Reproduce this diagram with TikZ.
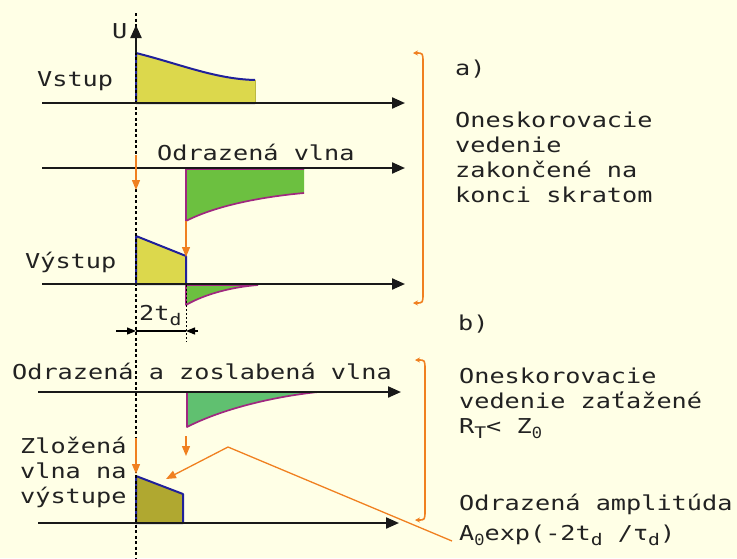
\documentclass[tikz,border=0pt]{standalone}
\usepackage{fontspec}
\setmainfont{DejaVu Sans Mono}[FakeStretch=1.23]
\newfontfamily\zerofont{Liberation Mono}
\usetikzlibrary{arrows.meta}
\definecolor{bg}{HTML}{FFFFE6}
\definecolor{txtc}{HTML}{222222}
\definecolor{yel}{HTML}{DCD84C}
\definecolor{grn}{HTML}{6CC040}
\definecolor{grnb}{HTML}{60C070}
\definecolor{oliv}{HTML}{B0A830}
\definecolor{navy}{HTML}{20209A}
\definecolor{mag}{HTML}{A02880}
\definecolor{orng}{HTML}{F08020}
\newcommand{\lowr}[1]{\raisebox{-0.28em}{\fontsize{16}{16}\selectfont #1}}
\newcommand{\lowz}{\raisebox{-0.28em}{\zerofont\fontsize{17}{17}\selectfont 0}}
\begin{document}
\begin{tikzpicture}[x=1pt,y=-1pt,
  txt/.style={anchor=base west, inner sep=0pt, text=txtc, font=\fontsize{20.5}{24}\selectfont},
  axis/.style={line width=2.2pt, black!90, -{Triangle[length=13pt,width=11pt]}},
  oarr/.style={line width=1.3pt, orng, -{Triangle[length=10pt,width=8pt]}},
  brace/.style={line width=1.6pt, orng, {Stealth[length=5pt,width=5pt]}-{Stealth[length=5pt,width=5pt]}},
  pout/.style={line width=2pt, navy, line join=round},
  mout/.style={line width=1.7pt, mag, line join=round}]
\fill[bg] (0,0) rectangle (737,558);
\useasboundingbox (0,0) rectangle (737,558);

% pulses
\fill[yel] (136,103) -- (136,53) .. controls (180,64) and (215,79) .. (255,80) -- (255,103) -- cycle;
\draw[pout] (255,103) -- (136,103) -- (136,53) .. controls (180,64) and (215,79) .. (255,80);
\draw[line width=1pt, yel!85!black] (255,80) -- (255,103);

\fill[grn] (186,169) -- (304,169) -- (304,193) .. controls (260,197) and (215,206) .. (186,221) -- cycle;
\draw[mout] (304,169) -- (186,169) -- (186,221) .. controls (215,206) and (260,197) .. (304,193);

\fill[yel] (136,284) -- (136,236) -- (186,256) -- (186,284) -- cycle;
\draw[pout] (136,284) -- (136,236) -- (186,256) -- (186,284) -- cycle;

\fill[grn] (186,285) -- (258,285) .. controls (232,287) and (205,294) .. (186,305) -- cycle;
\draw[mout] (258,285) -- (186,285) -- (186,305) .. controls (205,294) and (232,287) .. (258,285);

\fill[grnb] (187,392) -- (318,392) .. controls (270,397) and (220,410) .. (187,427) -- cycle;
\draw[mout] (318,392) -- (187,392) -- (187,427) .. controls (220,410) and (270,397) .. (318,392);

\fill[oliv] (136,523) -- (136,476) -- (183,494) -- (183,523) -- cycle;
\draw[pout] (136,523) -- (136,476) -- (183,494) -- (183,523) -- cycle;

% vertical dashed axis
\draw[line width=1.6pt, dash pattern=on 3pt off 2.5pt] (136,13) -- (136,558);
\draw[axis] (136,53) -- (136,25);

% horizontal axes
\coordinate (a1s) at (42,103);  \coordinate (a1e) at (405,103);
\coordinate (a2s) at (42,168);  \coordinate (a2e) at (405,168);
\coordinate (a3s) at (42,284);  \coordinate (a3e) at (405,284);
\coordinate (a4s) at (38,392);  \coordinate (a4e) at (401,392);
\coordinate (a5s) at (38,523);  \coordinate (a5e) at (399,523);
\draw[axis] (a1s) -- (a1e);
\draw[axis] (a2s) -- (a2e);
\draw[axis] (a3s) -- (a3e);
\draw[axis] (a4s) -- (a4e);
\draw[axis] (a5s) -- (a5e);

% orange arrows
\coordinate (o1s) at (136,155); \coordinate (o1e) at (136,190);
\coordinate (o2s) at (186,221); \coordinate (o2e) at (186,257);
\coordinate (o3s) at (186,436); \coordinate (o3e) at (186,456);
\coordinate (o4s) at (136,438); \coordinate (o4e) at (136,474);
\draw[oarr] (o1s) -- (o1e);
\draw[oarr] (o2s) -- (o2e);
\draw[oarr] (o3s) -- (o3e);
\draw[oarr] (o4s) -- (o4e);
\coordinate (dk) at (228,447);
\coordinate (dend) at (452,541);
\coordinate (dtip) at (166,479);
\draw[oarr] (dend) -- (dk) -- (dtip);

% 2td dimension
\draw[line width=0.8pt, dash pattern=on 2pt off 2pt] (186,285) -- (186,342);
\draw[line width=1.2pt] (136,331) -- (186,331);
\draw[line width=1.2pt, -{Triangle[length=9pt,width=7pt]}] (116,331) -- (136,331);
\draw[line width=1.2pt, -{Triangle[length=9pt,width=7pt]}] (198,331) -- (186,331);
\node[txt] (td) at (139,320) {2t\lowr{d}};

% braces
\draw[brace] (413,53) .. controls (423,53) .. (423,63) -- (423,293) .. controls (423,303) .. (413,303);
\draw[brace] (415,360) .. controls (425,360) .. (425,370) -- (425,510) .. controls (425,520) .. (415,520);

% texts
\node[txt] (U) at (112,38) {U};
\node[txt] (vstup) at (37,86) {Vstup};
\node[txt] (odr) at (157,160) {Odrazená vlna};
\node[txt] (vyst) at (25,268) {Výstup};
\node[txt] (a) at (455,75) {a)};
\node[txt] (ta1) at (455,127) {Oneskorovacie};
\node[txt] (ta2) at (455,152) {vedenie};
\node[txt] (ta3) at (455,177) {zakončené na};
\node[txt] (ta4) at (455,202) {konci skratom};
\node[txt] (b) at (458,330) {b)};
\node[txt] (odz) at (12,379) {Odrazená a zoslabená vlna};
\node[txt] (z1) at (20,453) {Zložená};
\node[txt] (z2) at (20,478) {vlna na};
\node[txt] (z3) at (20,503) {výstupe};
\node[txt] (tb1) at (459,383) {Oneskorovacie};
\node[txt] (tb2) at (459,408) {vedenie zaťažené};
\node[txt] (tb3) at (459,433) {R\lowr{T}< Z\lowz};
\node[txt] (tb4) at (459,510) {Odrazená amplitúda};
\node[txt] (tb5) at (459,540) {A\lowz exp(-2t\lowr{d} /τ\lowr{d})};
\end{tikzpicture}
\end{document}
